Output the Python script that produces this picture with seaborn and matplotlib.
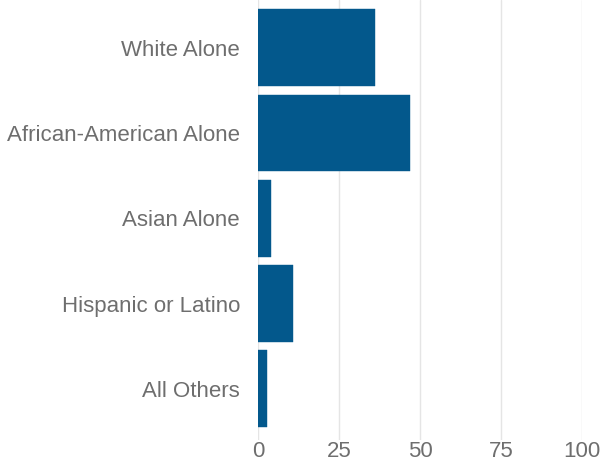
import matplotlib
matplotlib.use("Agg")
import matplotlib.pyplot as plt
import seaborn as sns
import pandas as pd

categories = ["White Alone", "African-American Alone", "Asian Alone", "Hispanic or Latino", "All Others"]
values = [36.1, 47.0, 3.9, 10.8, 2.9]
xticks = [0, 25, 50, 75, 100]

sns.set_theme(style="white")
plt.rcParams['font.family'] = ['Liberation Sans', 'DejaVu Sans']

df = pd.DataFrame({"category": categories, "value": values})

fig = plt.figure(figsize=(6.04, 4.62), dpi=100)
ax = fig.add_axes([258/604, 1-440/462, (582.3-258)/604, 440/462])
sns.barplot(data=df, x="value", y="category", orient="h", color="#03588C",
            saturation=1, width=0.9, ax=ax, edgecolor="#03588C", linewidth=0.3)
ax.set_xlim(0, 100)
ax.set_ylim(4.60, -0.56)
ax.set_xticks(xticks)
ax.set_xticklabels([str(t) for t in xticks])
ax.set_xlabel("")
ax.set_ylabel("")
ax.grid(axis="x", color="#e5e5e5", linewidth=1)
ax.set_axisbelow(True)
for s in ax.spines.values():
    s.set_visible(False)
ax.tick_params(axis="both", length=0, labelsize=16, labelcolor="#6e6e6e")
ax.tick_params(axis="y", pad=13)
ax.tick_params(axis="x", pad=1)
fig.savefig("out.png", dpi=100)
